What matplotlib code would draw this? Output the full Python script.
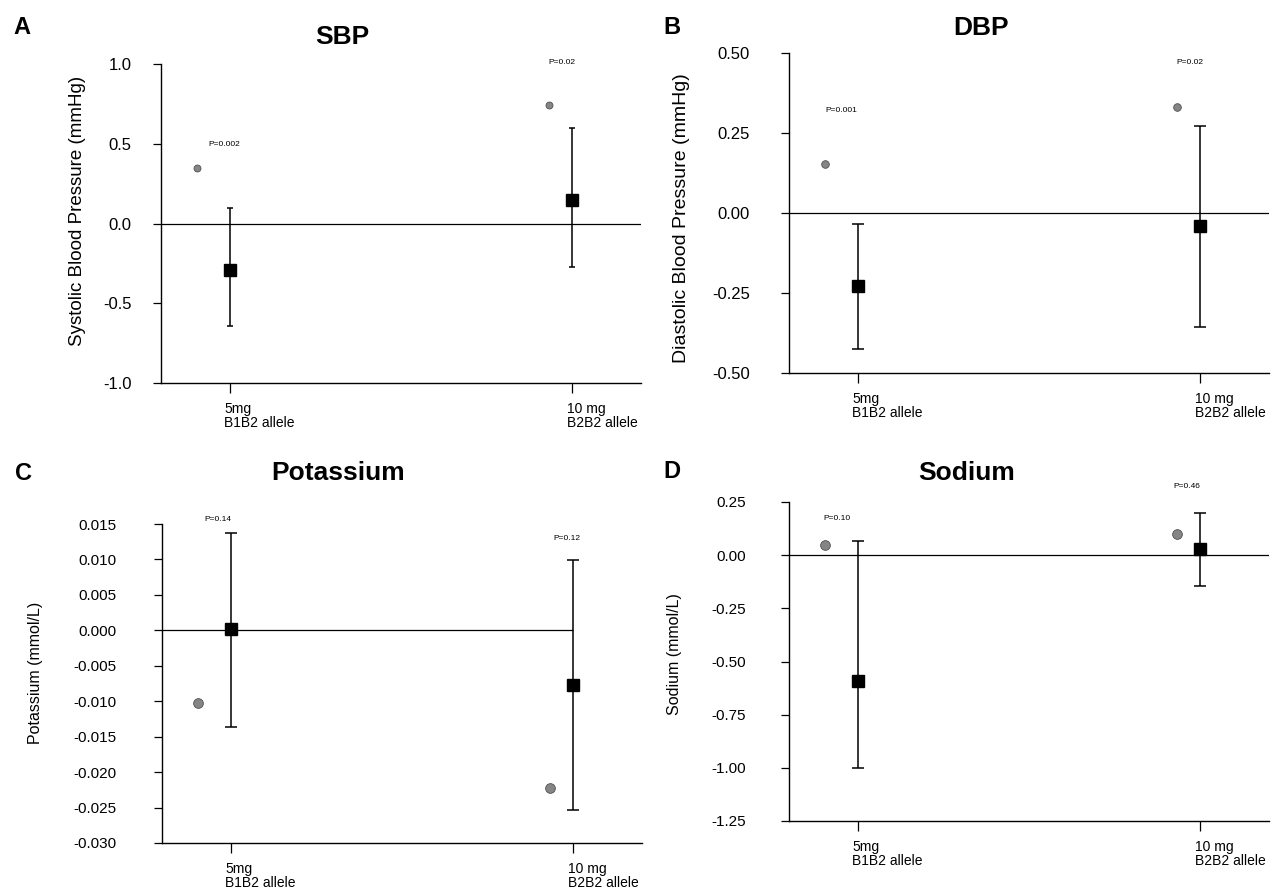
import matplotlib
matplotlib.use('Agg')
import matplotlib.pyplot as plt
import matplotlib.transforms as mtransforms
import numpy as np
from matplotlib.ticker import FormatStrFormatter

plt.rcParams['font.family'] = ['Liberation Sans', 'DejaVu Sans']
plt.rcParams['axes.unicode_minus'] = False

W, H = 1273, 893

categories = ['5mg\nB1B2 allele', '10 mg\nB2B2 allele']

# A: SBP
sbp_circle = [0.35, 0.74]
sbp_square = [-0.29, 0.15]
sbp_low = [-0.645, -0.27]
sbp_high = [0.095, 0.60]
sbp_p = ['P=0.002', 'P=0.02']

# B: DBP
dbp_circle = [0.153, 0.33]
dbp_square = [-0.228, -0.04]
dbp_low = [-0.425, -0.356]
dbp_high = [-0.034, 0.272]
dbp_p = ['P=0.001', 'P=0.02']

# C: Potassium
k_circle = [-0.0103, -0.0222]
k_square = [0.0002, -0.0077]
k_low = [-0.0136, -0.0254]
k_high = [0.0138, 0.0099]
k_p = ['P=0.14', 'P=0.12']

# D: Sodium
na_circle = [0.05, 0.10]
na_square = [-0.59, 0.03]
na_low = [-1.0, -0.145]
na_high = [0.066, 0.20]
na_p = ['P=0.10', 'P=0.46']

panels = [
    dict(letter='A', title='SBP', ylabel='Systolic Blood Pressure (mmHg)',
         circle=sbp_circle, square=sbp_square, low=sbp_low, high=sbp_high, p=sbp_p,
         ylim=(-1.0, 1.0), yticks=[-1.0, -0.5, 0.0, 0.5, 1.0], fmt='%.1f',
         rect=(161, 64, 383), letter_xy=(22, 28), title_xy=(342, 37),
         ylabel_xy=(78, 211), ylabel_fs=13.5, tick_fs=12, ypad=15,
         ms_c=5, cap=2.5, zero_full=True,
         p_xy=[(-0.016, 0.495), (-0.03, 1.01)]),
    dict(letter='B', title='DBP', ylabel='Diastolic Blood Pressure (mmHg)',
         circle=dbp_circle, square=dbp_square, low=dbp_low, high=dbp_high, p=dbp_p,
         ylim=(-0.5, 0.5), yticks=[-0.5, -0.25, 0.0, 0.25, 0.5], fmt='%.2f',
         rect=(789, 53, 373), letter_xy=(672, 27), title_xy=(981, 28),
         ylabel_xy=(682, 218), ylabel_fs=14, tick_fs=12, ypad=22,
         ms_c=5.5, cap=4.5, zero_full=True,
         p_xy=[(-0.047, 0.319), (-0.03, 0.469)]),
    dict(letter='C', title='Potassium', ylabel='Potassium (mmol/L)',
         circle=k_circle, square=k_square, low=k_low, high=k_high, p=k_p,
         ylim=(-0.030, 0.015), yticks=np.arange(-0.030, 0.0151, 0.005), fmt='%.3f',
         rect=(162, 524, 843), letter_xy=(23, 473), title_xy=(338, 473),
         ylabel_xy=(36, 673), ylabel_fs=11.5, tick_fs=11, ypad=27,
         ms_c=7, cap=4.5, zero_full=False,
         p_xy=[(-0.038, 0.0157), (-0.02, 0.0130)]),
    dict(letter='D', title='Sodium', ylabel='Sodium (mmol/L)',
         circle=na_circle, square=na_square, low=na_low, high=na_high, p=na_p,
         ylim=(-1.25, 0.25), yticks=[-1.25, -1.0, -0.75, -0.5, -0.25, 0.0, 0.25], fmt='%.2f',
         rect=(789, 502, 821), letter_xy=(672, 472), title_xy=(967, 473),
         ylabel_xy=(674, 654), ylabel_fs=11.5, tick_fs=11, ypad=25,
         ms_c=7, cap=4.5, zero_full=True,
         p_xy=[(-0.059, 0.174), (-0.041, 0.324)]),
]

CIRCLE_DX = [-0.095, -0.067]
XLIM = (-0.2, 1.2)
AX_W = 480

fig = plt.figure(figsize=(W / 100, H / 100), dpi=100)


def fx(x):
    return x / W


def fy(y):
    return 1 - y / H


for pan in panels:
    left, top, bottom = pan['rect']
    ax = fig.add_axes([fx(left), fy(bottom), AX_W / W, (bottom - top) / H])

    x = np.arange(len(categories))
    sq = np.array(pan['square'])
    yerr = [sq - np.array(pan['low']), np.array(pan['high']) - sq]

    if pan['zero_full']:
        ax.axhline(0, color='black', lw=0.9, zorder=1)
    else:
        ax.hlines(0, XLIM[0], 1, color='black', lw=0.9, zorder=1)

    ax.plot(x + np.array(CIRCLE_DX), pan['circle'], 'o', color='#858585',
            mec='#505050', mew=0.6, ms=pan['ms_c'], zorder=3)
    ax.errorbar(x, sq, yerr=yerr, fmt='s', color='black', ms=8,
                capsize=pan['cap'], elinewidth=1.1, capthick=1.1, zorder=4)

    for i, txt in enumerate(pan['p']):
        dx, ty = pan['p_xy'][i]
        ax.text(i + dx, ty, txt, fontsize=6, ha='center', va='center',
                clip_on=False)

    ax.set_xlim(*XLIM)
    ax.set_ylim(*pan['ylim'])
    ax.set_yticks(pan['yticks'])
    ax.yaxis.set_major_formatter(FormatStrFormatter(pan['fmt']))
    ax.tick_params(axis='y', direction='out', length=6, width=0.9,
                   labelsize=pan['tick_fs'], pad=pan['ypad'])
    ax.set_xticks(x, categories, ha='left', fontsize=10, linespacing=1.0)
    ax.tick_params(axis='x', direction='out', length=7, width=0.9, pad=7)
    offset = mtransforms.ScaledTranslation(-4 / 72, 0, fig.dpi_scale_trans)
    for lab in ax.get_xticklabels():
        lab.set_transform(lab.get_transform() + offset)

    for s in ['top', 'right']:
        ax.spines[s].set_visible(False)
    for s in ['left', 'bottom']:
        ax.spines[s].set_linewidth(1.0)

    fig.text(fx(pan['letter_xy'][0]), fy(pan['letter_xy'][1]), pan['letter'],
             fontsize=17, fontweight='bold', ha='center', va='center')
    fig.text(fx(pan['title_xy'][0]), fy(pan['title_xy'][1]), pan['title'],
             fontsize=19, fontweight='bold', ha='center', va='center')
    fig.text(fx(pan['ylabel_xy'][0]), fy(pan['ylabel_xy'][1]), pan['ylabel'],
             fontsize=pan['ylabel_fs'], rotation=90, ha='center', va='center')

fig.savefig('out.png', dpi=100)
